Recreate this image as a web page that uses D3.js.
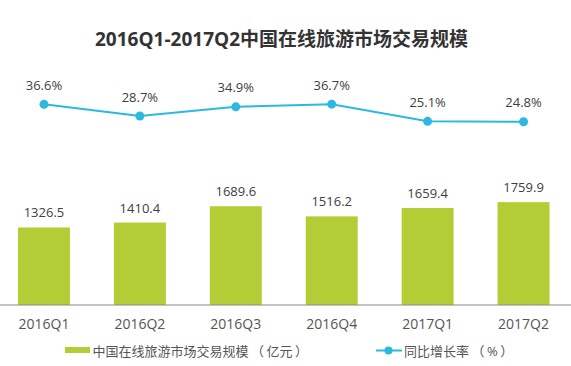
<!DOCTYPE html>
<html><head><meta charset="utf-8">
<script src="https://cdn.jsdelivr.net/npm/d3@7"></script>
<style>
html,body{margin:0;padding:0;background:#fff;}
text{font-family:"Open Sans","Noto Sans CJK SC",sans-serif;}
</style></head>
<body><svg id="c" width="571" height="366"></svg>
<script>
const categories = ["2016Q1","2016Q2","2016Q3","2016Q4","2017Q1","2017Q2"];
const scaleValues = [1326.5,1410.4,1689.6,1516.2,1659.4,1759.9];
const growthValues = [36.6,28.7,34.9,36.7,25.1,24.8];
const title = "2016Q1-2017Q2中国在线旅游市场交易规模";
const legendBar = "中国在线旅游市场交易规模（亿元）";
const legendLine = "同比增长率（%）";

const svg = d3.select("#c");
const green = "#b3cd37", blue = "#2bb9e0";

const x = d3.scaleBand().domain(categories).range([-4, 571.5]).paddingInner(0.458).paddingOuter(0.229);
const yBar = d3.scaleLinear().domain([0, 3000]).range([305, 305 - 3000*0.05845]);
const yLine = d3.scaleLinear().domain([0, 40]).range([158.5, 158.5 - 40*1.48]);

svg.append("text").attr("x", 281.5).attr("y", 46).attr("text-anchor","middle")
  .attr("font-size", 19).attr("font-weight","bold").attr("fill","#333").text(title);

// bars
svg.selectAll("rect.bar").data(categories).enter().append("rect")
  .attr("class","bar")
  .attr("x", d => x(d)).attr("width", x.bandwidth())
  .attr("y", (d,i) => yBar(scaleValues[i]))
  .attr("height", (d,i) => yBar(0) - yBar(scaleValues[i]))
  .attr("fill", green);

svg.selectAll("text.val").data(categories).enter().append("text")
  .attr("x", d => x(d) + x.bandwidth()/2)
  .attr("y", (d,i) => yBar(scaleValues[i]) - 10)
  .attr("text-anchor","middle").attr("font-size",13).attr("fill","#404040")
  .text((d,i) => scaleValues[i].toFixed(1));

// axis
const axis = svg.append("g").attr("transform","translate(0,305)")
  .call(d3.axisBottom(x).tickSize(0).tickPadding(0));
axis.select(".domain").attr("d","M0,0H571").attr("stroke","#8a8a8a").attr("stroke-width",1.2);
axis.selectAll(".tick text").attr("y", 24).attr("dy", 0).attr("font-size",14).attr("fill","#555")
  .attr("font-family",'"Open Sans","Noto Sans CJK SC",sans-serif');

// line
const line = d3.line().x((d,i) => x(categories[i]) + x.bandwidth()/2).y(d => yLine(d));
svg.append("path").datum(growthValues).attr("d", line)
  .attr("fill","none").attr("stroke", blue).attr("stroke-width",2);
svg.selectAll("circle.pt").data(growthValues).enter().append("circle")
  .attr("cx", (d,i) => x(categories[i]) + x.bandwidth()/2)
  .attr("cy", d => yLine(d)).attr("r", 4.5).attr("fill", blue);
svg.selectAll("text.pct").data(growthValues).enter().append("text")
  .attr("x", (d,i) => x(categories[i]) + x.bandwidth()/2)
  .attr("y", d => yLine(d) - 14.5)
  .attr("text-anchor","middle").attr("font-size",13).attr("fill","#404040")
  .text(d => d.toFixed(1) + "%");

// legend text with extra room around full-width parentheses
function legendText(xPos, str) {
  const t = svg.append("text").attr("x", xPos).attr("y", 350.5).attr("dominant-baseline","central")
    .attr("font-size",13).attr("fill","#555").attr("font-family",'"Noto Sans CJK SC",sans-serif');
  const parts = str.split(/([（）])/).filter(s => s.length);
  let prevParen = false;
  parts.forEach(p => {
    const isParen = p === "（" || p === "）";
    t.append("tspan").attr("dx", (isParen || prevParen) ? 2.5 : 0).text(p);
    prevParen = isParen;
  });
}
svg.append("rect").attr("x",65).attr("y",347).attr("width",25).attr("height",6).attr("fill",green);
legendText(92.5, legendBar);
svg.append("line").attr("x1",376).attr("x2",402).attr("y1",350.5).attr("y2",350.5)
  .attr("stroke",blue).attr("stroke-width",2);
svg.append("circle").attr("cx",388.5).attr("cy",350.5).attr("r",4).attr("fill",blue);
legendText(404, legendLine);
</script></body></html>
